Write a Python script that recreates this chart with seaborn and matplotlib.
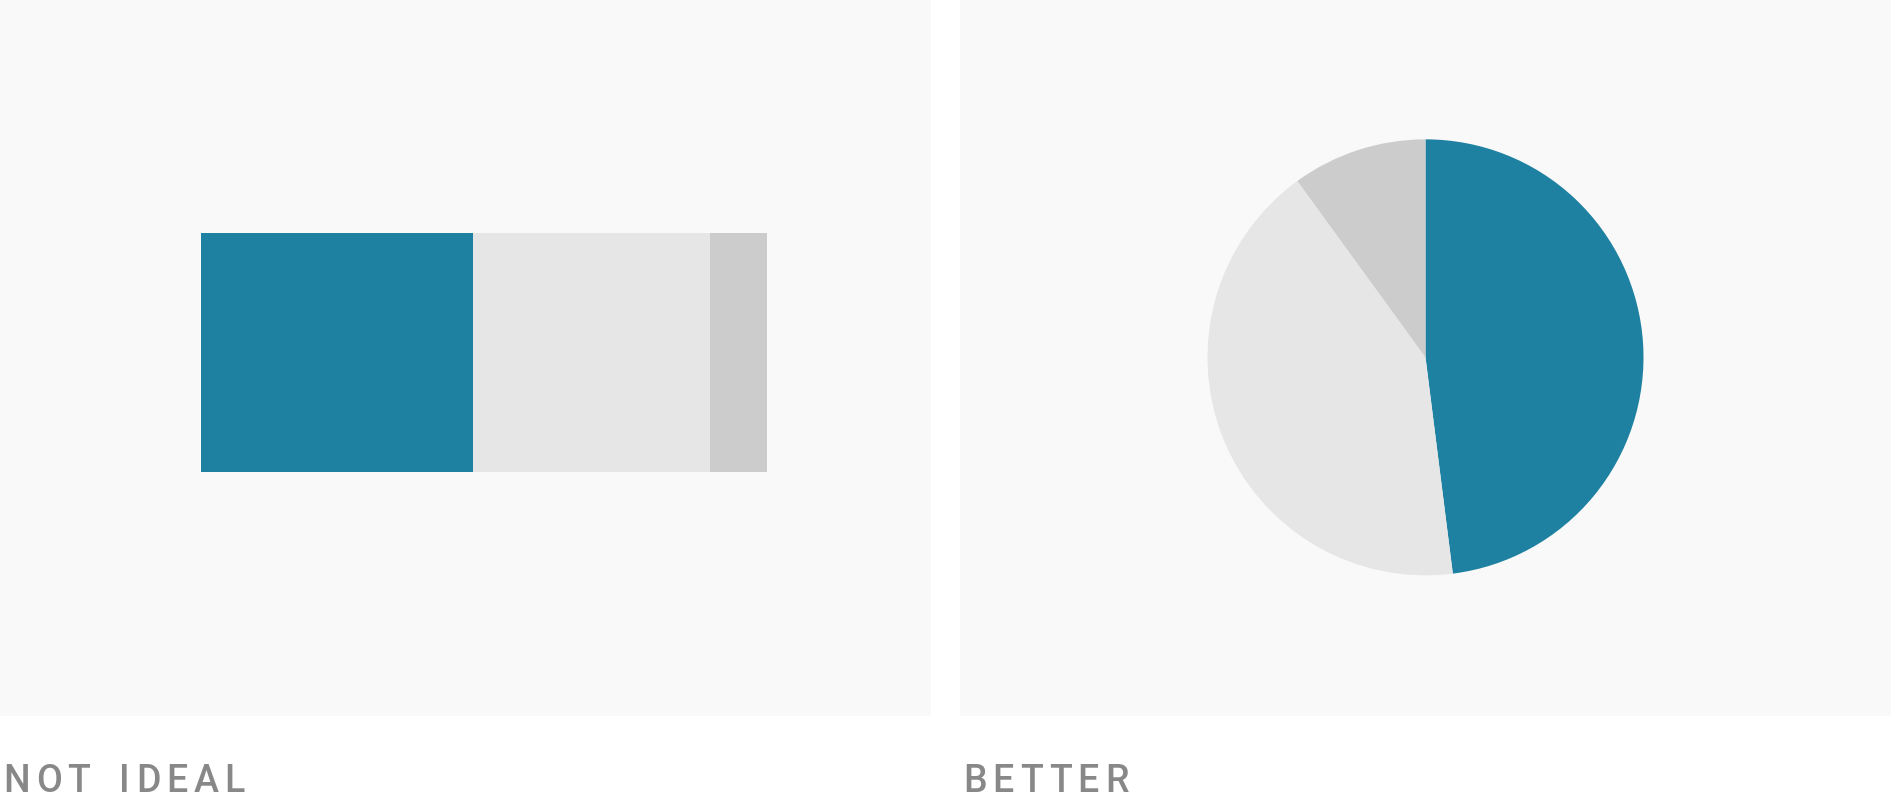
import matplotlib
matplotlib.use("Agg")
import matplotlib.pyplot as plt
import pandas as pd
import seaborn as sns

# part-of-whole data, same three shares shown both ways
segments = ["main", "other", "rest"]
shares = [48, 42, 10]
seg_colors = ["#1f81a1", "#e6e6e6", "#cccccc"]
panel_titles = ["NOT IDEAL", "BETTER"]

panel_bg = "#f9f9f9"
label_color = "#888888"

W, H = 1891, 804
panel_w, panel_h = 931, 716.7


def tracked_text(fig, x_px, y, text, gap_px=6, word_px=23, **kw):
    # matplotlib has no letter-spacing, so lay the letters out one by one
    renderer = fig.canvas.get_renderer()
    x = x_px
    for ch in text:
        if ch == " ":
            x += word_px
            continue
        t = fig.text(x / W, y, ch, **kw)
        x += t.get_window_extent(renderer).width + gap_px


sns.set_theme(style="white")
plt.rcParams["font.family"] = ["Roboto", "DejaVu Sans"]

fig = plt.figure(figsize=(W / 100, H / 100), dpi=100)
fig.patch.set_facecolor("white")

bottom = (H - panel_h) / H
ax_bar = fig.add_axes([0, bottom, panel_w / W, panel_h / H])
ax_pie = fig.add_axes([960 / W, bottom, panel_w / W, panel_h / H])

# stacked bar: draw running totals longest first so shorter ones sit on top
df = pd.DataFrame({"segment": segments, "share": shares, "color": seg_colors})
df["cum"] = df["share"].cumsum()
for _, row in df[::-1].iterrows():
    sns.barplot(
        x=[row["cum"]],
        y=["total"],
        color=row["color"],
        orient="h",
        width=0.8,
        saturation=1,
        linewidth=0,
        ax=ax_bar,
    )

px_per_unit = 566 / df["share"].sum()
ax_bar.set_xlim(-201 / px_per_unit, (panel_w - 201) / px_per_unit)
unit_px = 239 / 0.8
ax_bar.set_ylim((panel_h - 353.5) / unit_px, -353.5 / unit_px)

# pie
ax_pie.pie(
    df["share"],
    colors=df["color"],
    startangle=90,
    counterclock=False,
    wedgeprops=dict(linewidth=0),
    frame=True,
)
r_px = 218
ax_pie.set_xlim(-panel_w / 2 / r_px, panel_w / 2 / r_px)
ax_pie.set_ylim(-panel_h / 2 / r_px, panel_h / 2 / r_px)

for ax in (ax_bar, ax_pie):
    ax.set_facecolor(panel_bg)
    ax.set_xticks([])
    ax.set_yticks([])
    ax.set_xlabel("")
    ax.set_ylabel("")
    ax.grid(False)
    for s in ax.spines.values():
        s.set_visible(False)

base_y = (H - 791.7) / H
label_kw = dict(color=label_color, fontsize=27, fontweight="medium",
                va="baseline", ha="left")
tracked_text(fig, 3, base_y, panel_titles[0], **label_kw)
tracked_text(fig, 963, base_y, panel_titles[1], **label_kw)

fig.savefig("out.png", dpi=100, facecolor="white")
